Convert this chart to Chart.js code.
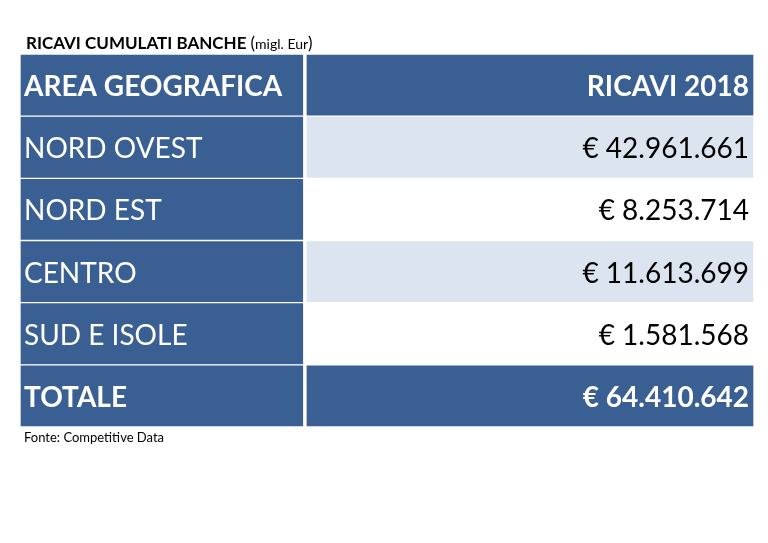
<!DOCTYPE html>
<html>
<head>
<meta charset="utf-8">
<script src="https://cdn.jsdelivr.net/npm/chart.js@4/dist/chart.umd.min.js"></script>
<style>
  body { margin: 0; background: #fff; }
  #wrap { position: relative; width: 768px; height: 543px; }
</style>
</head>
<body>
<div id="wrap"><canvas id="myChart" width="768" height="543"></canvas></div>
<script>
// table data
let headers = ['AREA GEOGRAFICA', 'RICAVI 2018']
let areas = ['NORD OVEST', 'NORD EST', 'CENTRO', 'SUD E ISOLE']
let ricavi = [42961661, 8253714, 11613699, 1581568]
let totaleLabel = 'TOTALE'
let totale = 64410642

let dark = '#3a6093'
let light = '#dce4ef'

// all rows of the table (header, areas, total)
let rows = [headers[0]].concat(areas, [totaleLabel])
let values = [headers[1]].concat(ricavi.map(v => '€ ' + fmt(v)), ['€ ' + fmt(totale)])
let boldRow = rows.map((r, i) => i === 0 || i === rows.length - 1)
let rightColors = rows.map((r, i) => boldRow[i] ? dark : (i % 2 === 1 ? light : '#ffffff'))

function fmt(n) {
    return String(n).replace(/\B(?=(\d{3})+(?!\d))/g, '.')
}

// split point between the two columns (fraction of the table width)
let split = 0.3866

// draws the cell texts, title and source
let textPlugin = {
    id: 'cellText',
    afterDatasetsDraw(chart) {
        let ctx = chart.ctx
        let xs = chart.scales.x
        let ys = chart.scales.y
        ctx.save()
        ctx.textBaseline = 'middle'
        for (let i = 0; i < rows.length; i++) {
            let y = ys.getPixelForValue(i) + 2
            ctx.font = (boldRow[i] ? 'bold ' : '') + '28px Lato'
            ctx.fillStyle = '#ffffff'
            ctx.textAlign = 'left'
            ctx.fillText(rows[i], xs.getPixelForValue(0) + 4, y)
            ctx.fillStyle = boldRow[i] ? '#ffffff' : '#000000'
            ctx.textAlign = 'right'
            ctx.fillText(values[i], xs.getPixelForValue(1) - 5, y)
        }
        // title
        ctx.textAlign = 'left'
        ctx.textBaseline = 'alphabetic'
        ctx.fillStyle = '#000000'
        ctx.font = 'bold 17px Lato'
        let t1 = 'RICAVI CUMULATI BANCHE '
        ctx.fillText(t1, 26, 49)
        let w = ctx.measureText(t1).width
        ctx.font = '17px Lato'
        ctx.fillText('(', 26 + w, 49)
        let w2 = ctx.measureText('(').width
        ctx.font = '14px Lato'
        ctx.fillText('migl. Eur', 26 + w + w2, 49)
        let w3 = ctx.measureText('migl. Eur').width
        ctx.font = '17px Lato'
        ctx.fillText(')', 26 + w + w2 + w3, 49)
        // source
        ctx.font = '13px Lato'
        ctx.fillText('Fonte: Competitive Data', 24, 442)
        ctx.restore()
    }
}

let ctx = document.getElementById('myChart').getContext('2d')
let chart = new Chart(ctx, {
    type: 'bar',
    data: {
        labels: rows,
        datasets: [{
            data: rows.map(() => [0, split]),
            backgroundColor: dark,
            borderColor: '#ffffff',
            borderWidth: 1,
            borderSkipped: false,
            grouped: false,
            categoryPercentage: 1,
            barPercentage: 1
        }, {
            data: rows.map(() => [split + 0.003, 1]),
            backgroundColor: rightColors,
            borderColor: '#ffffff',
            borderWidth: 1,
            borderSkipped: false,
            grouped: false,
            categoryPercentage: 1,
            barPercentage: 1
        }]
    },
    options: {
        indexAxis: 'y',
        responsive: false,
        animation: false,
        layout: { padding: { left: 20, right: 14, top: 54, bottom: 116 } },
        scales: {
            x: { display: false, min: 0, max: 1 },
            y: { display: false }
        },
        plugins: { legend: { display: false }, tooltip: { enabled: false } }
    },
    plugins: [textPlugin]
})
</script>
</body>
</html>
